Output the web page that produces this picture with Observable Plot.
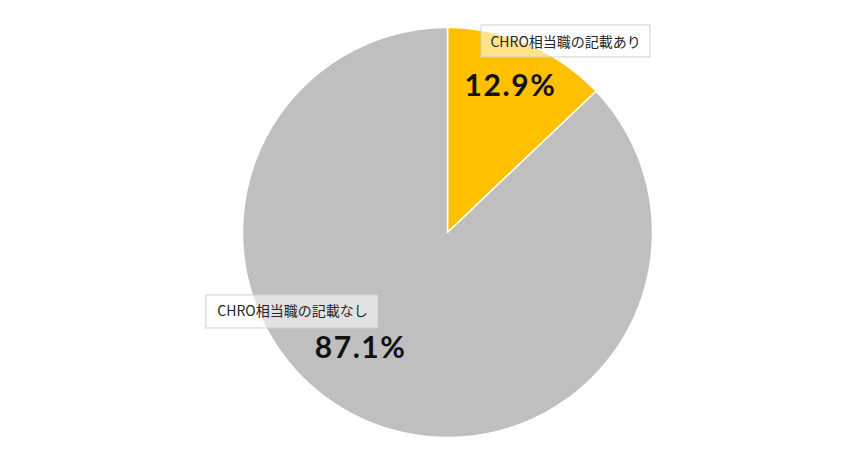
<!DOCTYPE html>
<html><head><meta charset="utf-8">
<script src="https://cdn.jsdelivr.net/npm/d3@7"></script>
<script src="https://cdn.jsdelivr.net/npm/@observablehq/plot@0.6"></script>
<style>
html,body{margin:0;padding:0;background:#fff;}
g.pct text{letter-spacing:1.6px;}
</style>
</head><body>
<div id="chart"></div>
<script>
const categories = ["CHRO相当職の記載あり", "CHRO相当職の記載なし"];
const values = [12.9, 87.1];
const valueLabels = ["12.9%", "87.1%"];
const colors = ["#FFC000", "#BFBFBF"];

// compute slices via d3.pie (clockwise from 12 o'clock)
const pie = d3.pie().sort(null).value(d => d)(values);
const pts = [];
pie.forEach((s, i) => {
  const n = Math.max(2, Math.ceil((s.endAngle - s.startAngle) / 0.01));
  pts.push({cat: categories[i], x: 0, y: 0});
  for (let k = 0; k <= n; k++) {
    const a = s.startAngle + (s.endAngle - s.startAngle) * k / n;
    pts.push({cat: categories[i], x: Math.sin(a), y: Math.cos(a)});
  }
  pts.push({cat: categories[i], x: 0, y: 0});
});

// label placement (annotation positions in unit-circle coordinates)
const labelPos = [
  {box: [0.166, 0.990, 0.854, 1.010], name: [0.576, 0.927], val: [0.307, 0.712]},
  {box: [-1.176, -0.337, -0.468, -0.307], name: [-0.756, -0.385], val: [-0.424, -0.566]}
];
const boxes = categories.map((c, i) => ({cat: c, x1: labelPos[i].box[0], x2: labelPos[i].box[1], y1: labelPos[i].box[2], y2: labelPos[i].box[3]}));
const names = categories.map((c, i) => ({cat: c, x: labelPos[i].name[0], y: labelPos[i].name[1]}));
const vals = valueLabels.map((v, i) => ({label: v, x: labelPos[i].val[0], y: labelPos[i].val[1]}));

const chart = Plot.plot({
  width: 846,
  height: 460,
  margin: 0,
  x: {domain: [-1, 1], range: [242, 652], axis: null},
  y: {domain: [-1, 1], range: [437, 27], axis: null},
  color: {domain: categories, range: colors},
  marks: [
    Plot.line(pts, {x: "x", y: "y", z: "cat", fill: "cat", stroke: "#fff", strokeWidth: 1.5, curve: "linear"}),
    Plot.rect(boxes, {x1: "x1", x2: "x2", y1: "y1", y2: "y2", fill: "#fff", fillOpacity: 0.55, stroke: "#d0d0d0", strokeWidth: 1}),
    Plot.text(names, {x: "x", y: "y", text: "cat", fill: "#262626", fontSize: 14, fontFamily: "'Noto Sans CJK JP', sans-serif"}),
    Plot.text(vals, {x: "x", y: "y", text: "label", fill: "#111", fontSize: 30, fontWeight: "bold", fontFamily: "Lato, 'Noto Sans', sans-serif", className: "pct"})
  ]
});
document.getElementById("chart").appendChild(chart);
</script>
</body></html>
